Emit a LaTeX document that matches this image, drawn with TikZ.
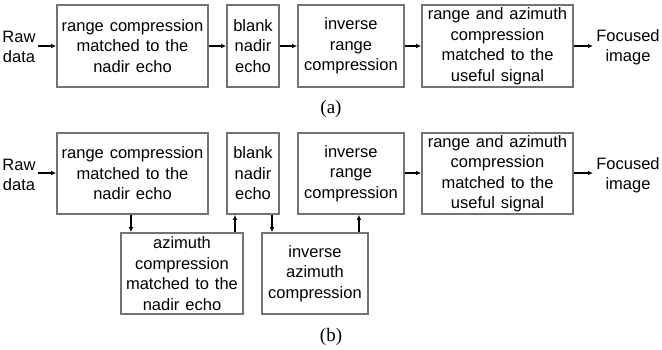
\documentclass[tikz,border=0pt]{standalone}
\usepackage{fontspec}
\setmainfont{Liberation Serif}
\newfontfamily\arialf{Liberation Sans}
\usetikzlibrary{arrows.meta}
\newcommand{\widesp}{\spaceskip=0.36em plus 0.1em\relax}
\tikzset{
  blk/.style={draw=black!55, line width=1.6pt, fill=white, inner sep=0pt, align=center,
    font=\arialf\fontsize{16.5}{20.5}\selectfont, execute at begin node=\widesp},
  lbl/.style={align=center, font=\arialf\fontsize{16.5}{20.5}\selectfont, inner sep=0pt},
  captxt/.style={font=\fontsize{19}{21}\selectfont, inner sep=0pt},
  arr/.style={-{Latex[length=5pt,width=4.5pt]}, line width=1.1pt, black},
}
\newcommand{\boxat}[6]{% name, x1, y1, x2, y2, text
  \node[blk, minimum width={#4-#2}, minimum height={#5-#3}] (#1) at ({(#2+#4)/2},{(#3+#5)/2}) {#6};}
\begin{document}
\begin{tikzpicture}[x=1pt,y=-1pt]
\useasboundingbox (0,0) rectangle (662,349);
% (a)
\boxat{a1}{57}{5}{208}{87}{range compression\\matched to the\\nadir echo}
\boxat{a2}{227}{5}{279}{87}{blank\\nadir\\echo}
\boxat{a3}{298}{5}{404}{87}{inverse\\range\\compression}
\boxat{a4}{422}{5}{573}{87}{range and azimuth\\compression\\matched to the\\useful signal}
\node[lbl] (ain) at (19,47) {Raw\\data};
\node[lbl] (aout) at (628,47) {Focused\\image};
\coordinate (ainr) at (38,46);
\coordinate (aoutl) at (593,46);
\draw[arr] (ainr) -- (ainr -| a1.west);
\draw[arr] (a1.east |- 0,46) -- (a2.west |- 0,46);
\draw[arr] (a2.east |- 0,46) -- (a3.west |- 0,46);
\draw[arr] (a3.east |- 0,46) -- (a4.west |- 0,46);
\draw[arr] (a4.east |- aoutl) -- (aoutl);
\node[captxt] (capa) at (331,109) {(a)};
% (b)
\boxat{b1}{57}{133}{208}{214}{range compression\\matched to the\\nadir echo}
\boxat{b2}{227}{133}{279}{214}{blank\\nadir\\echo}
\boxat{b3}{298}{133}{404}{214}{inverse\\range\\compression}
\boxat{b4}{422}{133}{573}{214}{range and azimuth\\compression\\matched to the\\useful signal}
\boxat{b5}{121}{233}{243}{314}{azimuth\\compression\\matched to the\\nadir echo}
\boxat{b6}{262}{233}{368}{314}{inverse\\azimuth\\compression}
\node[lbl] (bin) at (19,175) {Raw\\data};
\node[lbl] (bout) at (628,175) {Focused\\image};
\coordinate (binr) at (38,173);
\coordinate (boutl) at (593,173);
\draw[arr] (binr) -- (binr -| b1.west);
\draw[arr] (b3.east |- 0,173) -- (b4.west |- 0,173);
\draw[arr] (b4.east |- boutl) -- (boutl);
\draw[arr] (b1.south -| 131,0) -- (b5.north -| 131,0);
\draw[arr] (b5.north -| 235,0) -- (b2.south -| 235,0);
\draw[arr] (b2.south -| 272,0) -- (b6.north -| 272,0);
\draw[arr] (b6.north -| 359,0) -- (b3.south -| 359,0);
\node[captxt] (capb) at (331,337) {(b)};
\end{tikzpicture}
\end{document}
